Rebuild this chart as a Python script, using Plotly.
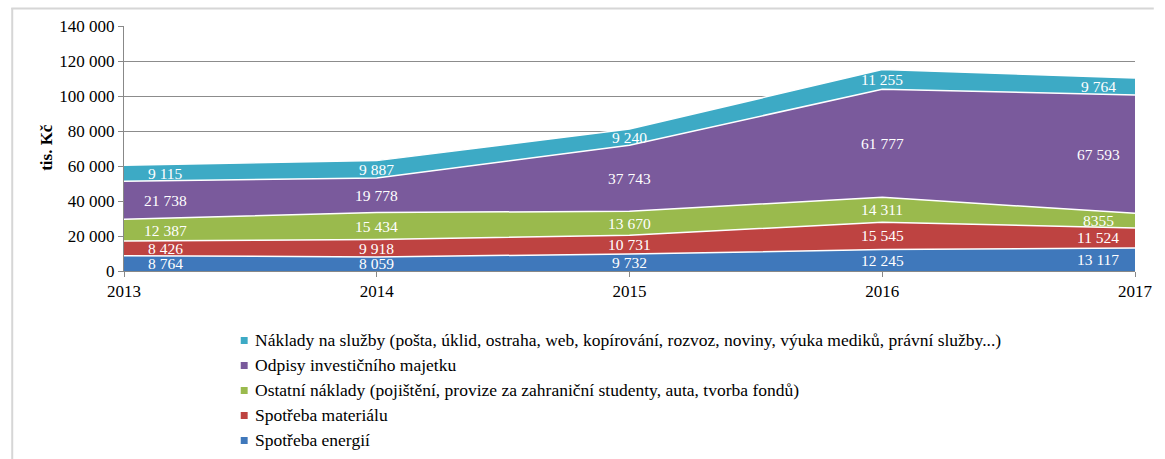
import plotly.graph_objects as go

years = [2013, 2014, 2015, 2016, 2017]

series_names = [
    "Spotřeba energií",
    "Spotřeba materiálu",
    "Ostatní náklady (pojištění, provize za zahraniční studenty, auta, tvorba fondů)",
    "Odpisy investičního majetku",
    "Náklady na služby (pošta, úklid, ostraha, web, kopírování, rozvoz, noviny, výuka mediků, právní služby...)",
]
energie = [8764, 8059, 9732, 12245, 13117]
material = [8426, 9918, 10731, 15545, 11524]
ostatni = [12387, 15434, 13670, 14311, 8355]
odpisy = [21738, 19778, 37743, 61777, 67593]
sluzby = [9115, 9887, 9240, 11255, 9764]
series_values = [energie, material, ostatni, odpisy, sluzby]
colors = ["#3F78BB", "#BE4341", "#9ABA4D", "#7A5A9C", "#3DAAC5"]

y_ticks = [0, 20000, 40000, 60000, 80000, 100000, 120000, 140000]
y_tick_text = ["0", "20 000", "40 000", "60 000", "80 000", "100 000", "120 000", "140 000"]
y_title = "tis. Kč"
label_overrides = {(2, 4): "8355"}

FONT = "Liberation Serif"

# plot area geometry in px
L, R, T, B = 124, 1146, 26, 271
W, H = R - L, B - T


def px_x(px):
    return (px - L) / W


def px_y(py):
    return (B - py) / H


def fmt(v):
    return f"{v:,}".replace(",", " ")


fig = go.Figure()
for name, vals, col in zip(series_names, series_values, colors):
    fig.add_trace(go.Scatter(
        x=years, y=vals, name=name, stackgroup="one", mode="lines",
        line=dict(color="white", width=1.5), fillcolor=col,
        showlegend=False, hoverinfo="skip",
    ))

annotations = []
cum = [0] * len(years)
for si, vals in enumerate(series_values):
    for i, (yr, v) in enumerate(zip(years, vals)):
        mid = cum[i] + v / 2
        shift = 41 if i == 0 else (-37 if i == len(years) - 1 else 0)
        txt = label_overrides.get((si, i), fmt(v))
        annotations.append(dict(
            x=yr, y=mid, xref="x", yref="y", text=txt, showarrow=False,
            xshift=shift, font=dict(family=FONT, size=15.5, color="white"),
        ))
    cum = [c + v for c, v in zip(cum, vals)]

# y-axis title
annotations.append(dict(
    x=px_x(45), y=px_y(147), xref="paper", yref="paper", text=f"<b>{y_title}</b>",
    xanchor="center", yanchor="middle",
    showarrow=False, textangle=-90, font=dict(family=FONT, size=17, color="black"),
))

# custom legend (top series first)
shapes = []
for k, si in enumerate(reversed(range(len(series_names)))):
    yc = 340 + 25 * k
    annotations.append(dict(
        x=px_x(254), y=px_y(yc), xref="paper", yref="paper", xanchor="left",
        yanchor="middle", text=series_names[si], showarrow=False,
        font=dict(family=FONT, size=17.5, color="black"),
    ))
    shapes.append(dict(
        type="rect", xref="paper", yref="paper",
        x0=px_x(242), x1=px_x(249), y0=px_y(yc + 4), y1=px_y(yc - 3),
        fillcolor=colors[si], line=dict(width=0),
    ))

# outer frame
shapes.append(dict(type="line", xref="paper", yref="paper", x0=px_x(10), x1=px_x(1165),
                   y0=px_y(8.5), y1=px_y(8.5), line=dict(color="#D6D6D6", width=2)))
shapes.append(dict(type="line", xref="paper", yref="paper", x0=px_x(11), x1=px_x(11),
                   y0=px_y(8), y1=px_y(459), line=dict(color="#D6D6D6", width=2)))

fig.update_layout(
    width=1165, height=459,
    margin=dict(l=L, r=1165 - R, t=T, b=459 - B),
    paper_bgcolor="white", plot_bgcolor="white",
    font=dict(family=FONT, size=17, color="black"),
    annotations=annotations, shapes=shapes, showlegend=False,
    xaxis=dict(
        range=[2013, 2017], tickvals=years, ticktext=[str(y) for y in years],
        showgrid=False, showline=True, linecolor="#888888", linewidth=1,
        ticks="outside", ticklen=5, tickcolor="#888888",
        tickfont=dict(family=FONT, size=17, color="black"), zeroline=False,
    ),
    yaxis=dict(
        range=[0, 140000], tickvals=y_ticks, ticktext=y_tick_text,
        showgrid=True, gridcolor="#8C8C8C", gridwidth=1,
        showline=True, linecolor="#888888", linewidth=1,
        ticks="outside", ticklen=5, tickcolor="#888888",
        tickfont=dict(family=FONT, size=17, color="black"), zeroline=False,
    ),
)

fig.write_html("out.html", config={"displayModeBar": False},
               post_script=["document.body.style.margin='0px';"])
